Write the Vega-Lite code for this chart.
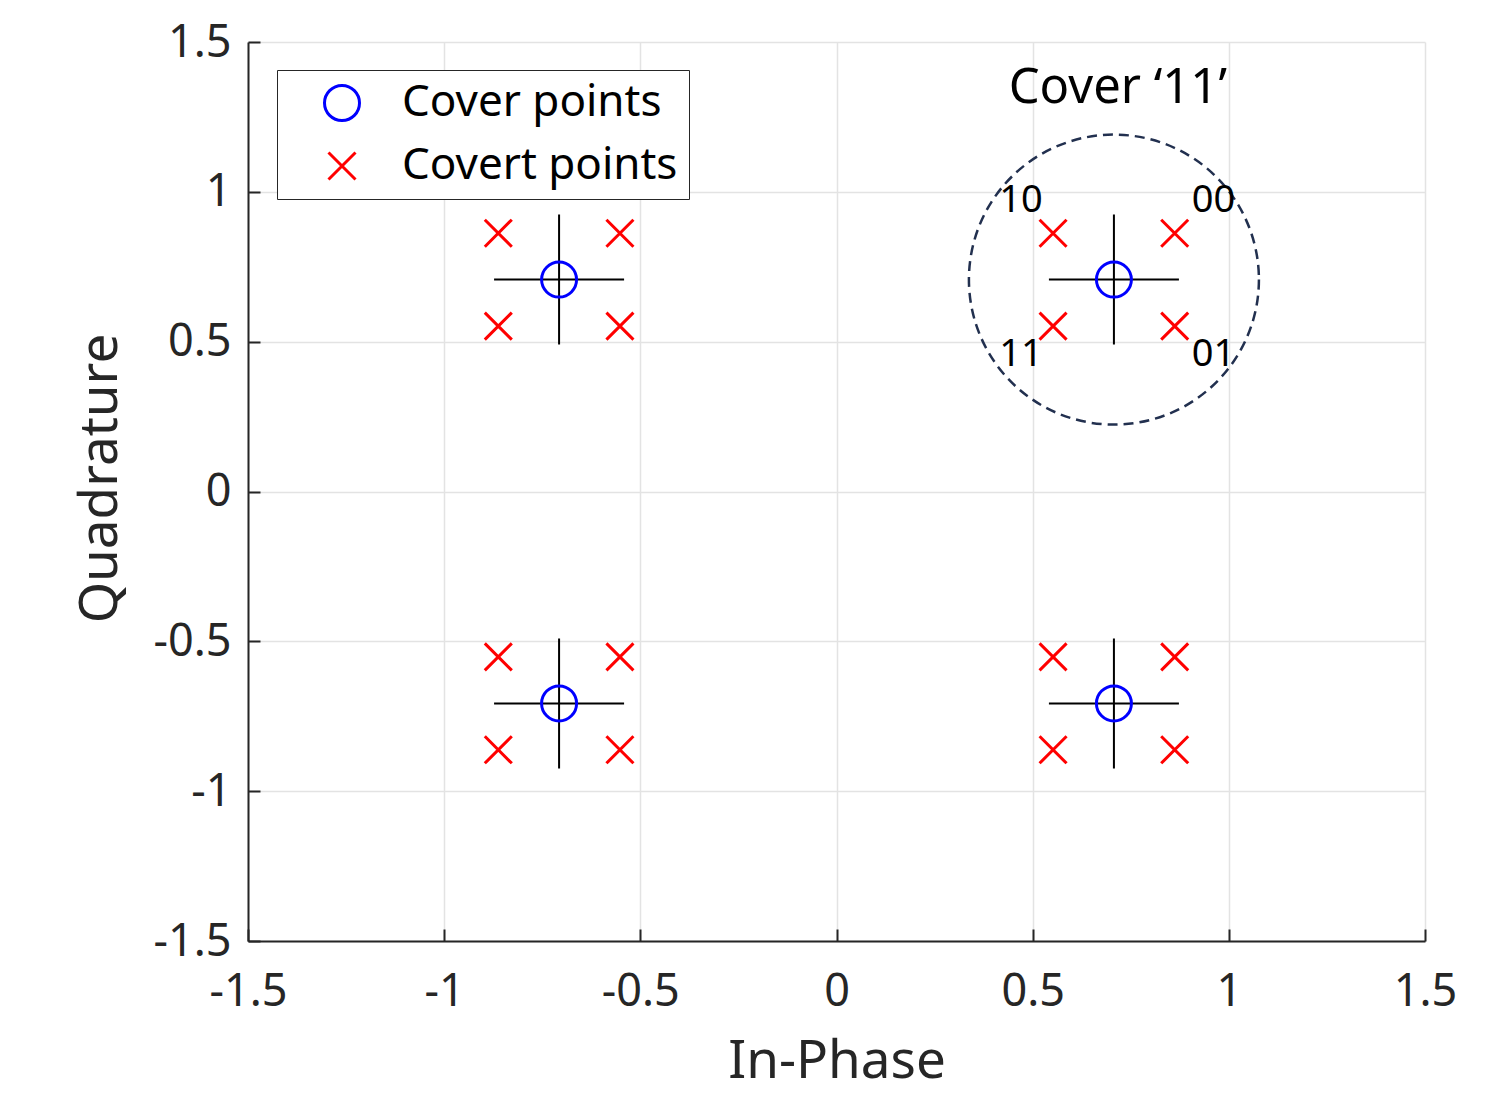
{
  "$schema": "https://vega.github.io/schema/vega-lite/v6.json",
  "width": 1177,
  "height": 899,
  "autosize": "none",
  "padding": {"left": 248, "top": 42, "right": 62, "bottom": 153},
  "background": "white",
  "config": {
    "view": {"stroke": null},
    "font": "Noto Sans",
    "axis": {
      "domainColor": "#262626",
      "domainWidth": 2,
      "tickColor": "#262626",
      "tickWidth": 2,
      "tickSize": -12,
      "gridColor": "#e3e3e3",
      "gridWidth": 1.5,
      "labelFont": "Noto Sans",
      "labelFontSize": 45,
      "labelColor": "#262626",
      "labelFlush": false,
      "titleFont": "Noto Sans",
      "titleFontSize": 53,
      "titleFontWeight": "normal",
      "titleColor": "#262626",
      "labelExpr": "replace(format(datum.value, '~g'), '−', '-')"
    }
  },
  "datasets": {
    "cover": [
      {"i": 0.7071, "q": 0.7071, "series": "Cover points"},
      {"i": -0.7071, "q": 0.7071, "series": "Cover points"},
      {"i": -0.7071, "q": -0.7071, "series": "Cover points"},
      {"i": 0.7071, "q": -0.7071, "series": "Cover points"}
    ],
    "points": [
      {"i": 0.7071, "q": 0.7071, "series": "Cover points"},
      {"i": -0.7071, "q": 0.7071, "series": "Cover points"},
      {"i": -0.7071, "q": -0.7071, "series": "Cover points"},
      {"i": 0.7071, "q": -0.7071, "series": "Cover points"},
      {"i": 0.862, "q": 0.862, "series": "Covert points"},
      {"i": 0.552, "q": 0.862, "series": "Covert points"},
      {"i": 0.552, "q": 0.552, "series": "Covert points"},
      {"i": 0.862, "q": 0.552, "series": "Covert points"},
      {"i": -0.552, "q": 0.862, "series": "Covert points"},
      {"i": -0.862, "q": 0.862, "series": "Covert points"},
      {"i": -0.862, "q": 0.552, "series": "Covert points"},
      {"i": -0.552, "q": 0.552, "series": "Covert points"},
      {"i": -0.552, "q": -0.552, "series": "Covert points"},
      {"i": -0.862, "q": -0.552, "series": "Covert points"},
      {"i": -0.862, "q": -0.862, "series": "Covert points"},
      {"i": -0.552, "q": -0.862, "series": "Covert points"},
      {"i": 0.862, "q": -0.552, "series": "Covert points"},
      {"i": 0.552, "q": -0.552, "series": "Covert points"},
      {"i": 0.552, "q": -0.862, "series": "Covert points"},
      {"i": 0.862, "q": -0.862, "series": "Covert points"}
    ],
    "highlight": [
      {"i": 0.7071, "q": 0.7071}
    ],
    "bitLabels": [
      {"i": 0.470, "q": 0.971, "label": "10"},
      {"i": 0.961, "q": 0.971, "label": "00"},
      {"i": 0.470, "q": 0.455, "label": "11"},
      {"i": 0.961, "q": 0.455, "label": "01"}
    ],
    "heading": [
      {"i": 0.717, "q": 1.345, "label": "Cover ‘11’"}
    ]
  },
  "layer": [
    {
      "data": {"name": "cover"},
      "mark": {
        "type": "point",
        "shape": "M-1,0L1,0M0,-1L0,1",
        "size": 16900,
        "filled": false,
        "stroke": "black",
        "strokeWidth": 2,
        "opacity": 1
      },
      "encoding": {
        "x": {
          "field": "i",
          "type": "quantitative",
          "scale": {"domain": [-1.5, 1.5], "nice": false, "zero": false},
          "axis": {
            "values": [-1.5, -1, -0.5, 0, 0.5, 1, 1.5],
            "title": "In-Phase",
            "labelPadding": 40,
            "titlePadding": 21
          }
        },
        "y": {
          "field": "q",
          "type": "quantitative",
          "scale": {"domain": [-1.5, 1.5], "nice": false, "zero": false},
          "axis": {
            "values": [-1.5, -1, -0.5, 0, 0.5, 1, 1.5],
            "title": "Quadrature",
            "labelPadding": 29,
            "titlePadding": 25,
            "titleY": 436
          }
        }
      }
    },
    {
      "data": {"name": "points"},
      "mark": {"type": "point", "filled": false, "strokeWidth": 3, "opacity": 1},
      "encoding": {
        "x": {"field": "i", "type": "quantitative"},
        "y": {"field": "q", "type": "quantitative"},
        "color": {
          "field": "series",
          "type": "nominal",
          "scale": {"domain": ["Cover points", "Covert points"], "range": ["#0000ff", "#ff0000"]},
          "legend": {
            "title": null,
            "orient": "none",
            "legendX": 29,
            "legendY": 28,
            "strokeColor": "#262626",
            "fillColor": "white",
            "padding": 11,
            "rowPadding": 17,
            "symbolOffset": 32,
            "labelOffset": 38,
            "labelLimit": 0,
            "labelFont": "Noto Sans",
            "labelFontSize": 44,
            "labelColor": "black",
            "symbolStrokeWidth": 3
          }
        },
        "shape": {
          "field": "series",
          "type": "nominal",
          "scale": {"domain": ["Cover points", "Covert points"], "range": ["circle", "M-1,-1L1,1M1,-1L-1,1"]}
        },
        "size": {
          "field": "series",
          "type": "nominal",
          "scale": {"domain": ["Cover points", "Covert points"], "range": [1225, 729]}
        }
      }
    },
    {
      "data": {"name": "highlight"},
      "mark": {
        "type": "point",
        "shape": "circle",
        "size": 84100,
        "filled": false,
        "stroke": "#22304f",
        "strokeWidth": 2.5,
        "strokeDash": [10, 6],
        "opacity": 1
      },
      "encoding": {
        "x": {"field": "i", "type": "quantitative"},
        "y": {"field": "q", "type": "quantitative"}
      }
    },
    {
      "data": {"name": "bitLabels"},
      "mark": {"type": "text", "font": "Noto Sans", "fontSize": 38, "color": "black", "align": "center", "baseline": "middle"},
      "encoding": {
        "x": {"field": "i", "type": "quantitative"},
        "y": {"field": "q", "type": "quantitative"},
        "text": {"field": "label"}
      }
    },
    {
      "data": {"name": "heading"},
      "mark": {"type": "text", "font": "Noto Sans", "fontSize": 49, "color": "black", "align": "center", "baseline": "middle"},
      "encoding": {
        "x": {"field": "i", "type": "quantitative"},
        "y": {"field": "q", "type": "quantitative"},
        "text": {"field": "label"}
      }
    }
  ]
}
